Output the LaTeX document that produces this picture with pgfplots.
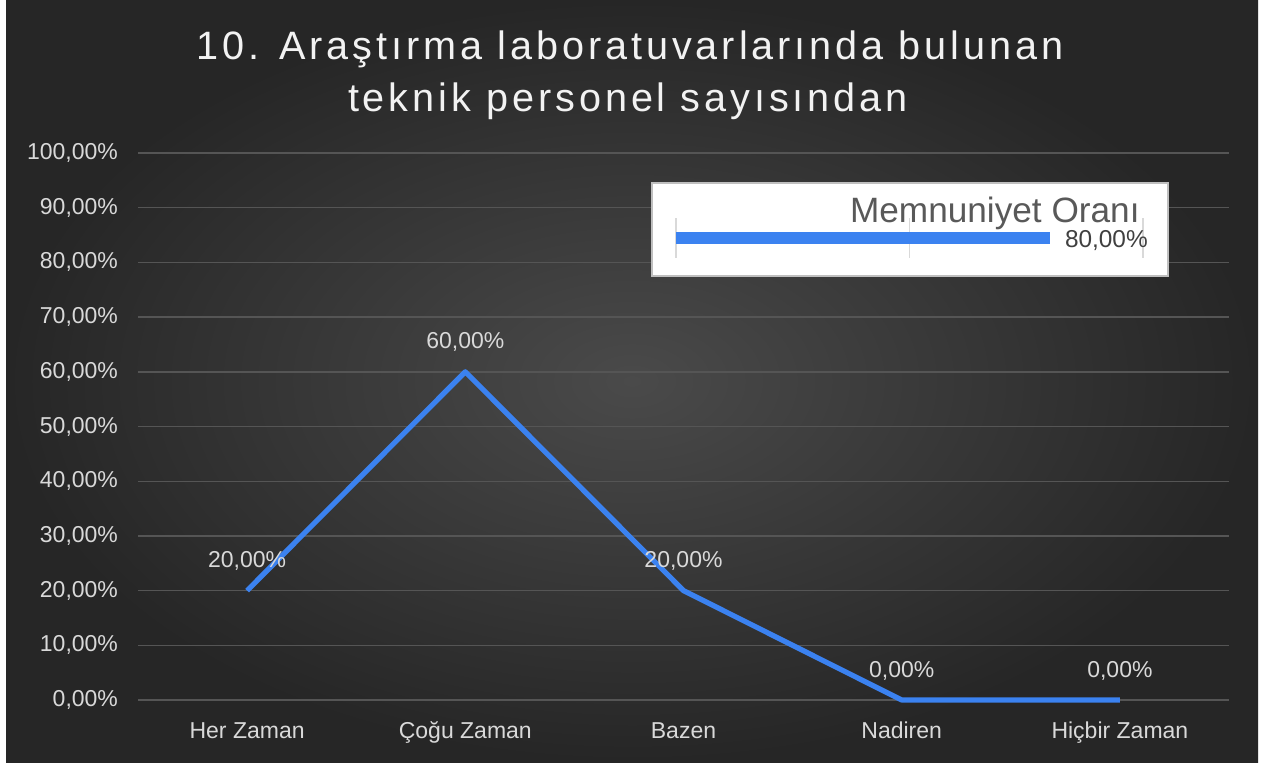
\documentclass[border=0pt]{standalone}
\usepackage{fontspec}
\setmainfont{Liberation Sans}
\newfontfamily\titlefont[LetterSpace=10]{Liberation Sans}
\usepackage{pgfplots}
\pgfplotsset{compat=1.18}
\definecolor{bgin}{HTML}{4A4A4A}
\definecolor{bgout}{HTML}{262626}
\definecolor{gridc}{HTML}{555555}
\definecolor{lblc}{HTML}{D9D9D9}
\definecolor{lineblue}{HTML}{3B82F0}
\definecolor{insetgrid}{HTML}{D9D9D9}
\definecolor{insettext}{HTML}{595959}
\begin{document}
\begin{tikzpicture}
\fill[white] (0,0) rectangle (632pt,381pt);
\shade[inner color=bgin, outer color=bgout] (3pt,0) rectangle (629pt,381pt);
\node[anchor=base, inner sep=0pt, text=white!95!black, font=\titlefont\fontsize{19.8pt}{24pt}\selectfont]
  at (315pt,351pt) {10. Araştırma laboratuvarlarında bulunan};
\node[anchor=base, inner sep=0pt, text=white!95!black, font=\titlefont\fontsize{19.8pt}{24pt}\selectfont]
  at (314pt,325pt) {teknik personel sayısından};
\begin{axis}[
  at={(69pt,31pt)}, anchor=south west,
  scale only axis, width=545.5pt, height=273.5pt,
  xmin=-0.5, xmax=4.5, ymin=0, ymax=1,
  axis line style={draw=none},
  tick style={draw=none},
  ymajorgrids,
  major grid style={color=gridc, line width=0.7pt},
  ytick={0,0.1,...,1.01},
  yticklabels={0{,}00\%,10{,}00\%,20{,}00\%,30{,}00\%,40{,}00\%,50{,}00\%,60{,}00\%,70{,}00\%,80{,}00\%,90{,}00\%,100{,}00\%},
  xtick={0,1,2,3,4},
  xticklabels={Her Zaman,Çoğu Zaman,Bazen,Nadiren,Hiçbir Zaman},
  ticklabel style={font=\fontsize{11.5pt}{13pt}\selectfont, text=lblc},
  yticklabel style={xshift=-6.5pt},
  xticklabel style={anchor=base, yshift=-19pt},
  clip=false,
  nodes near coords,
  point meta=explicit symbolic,
  nodes near coords style={anchor=base, yshift=11.5pt, inner sep=0pt, text=lblc, font=\fontsize{11.5pt}{13pt}\selectfont},
]
\addplot[lineblue, line width=2.6pt, line join=round] table[meta=lbl] {
x y lbl
0 0.2 20,00\%
1 0.6 60,00\%
2 0.2 20,00\%
3 0.0 0,00\%
4 0.0 0,00\%
};
\end{axis}
\fill[white] (326pt,243pt) rectangle (584pt,289.5pt);
\draw[gray!50, line width=0.6pt] (326pt,243pt) rectangle (584pt,289.5pt);
\begin{axis}[
  at={(338pt,252pt)}, anchor=south west,
  scale only axis, width=233.5pt, height=20pt,
  xmin=0, xmax=1, ymin=0, ymax=2,
  axis line style={draw=none},
  tick style={draw=none},
  xtick={0,0.5,1}, ytick=\empty,
  xticklabels={}, 
  xmajorgrids,
  major grid style={color=insetgrid, line width=0.7pt},
  clip=false,
]
\addplot[xbar, bar width=6pt, fill=lineblue, draw=none] coordinates {(0.8,1)};
\node[anchor=base west, text=black!75, inner sep=0pt, font=\fontsize{12.2pt}{14pt}\selectfont] at (axis cs:0.8,1) [xshift=7.5pt, yshift=-4.6pt] {80,00\%};
\end{axis}
\node[anchor=base east, inner sep=0pt, text=insettext, font=\fontsize{17.6pt}{20pt}\selectfont] at (570pt,269.5pt) {Memnuniyet Oranı};
\end{tikzpicture}
\end{document}
